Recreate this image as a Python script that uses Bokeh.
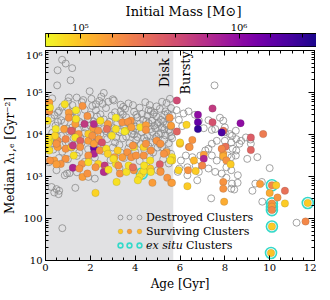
import numpy as np
from math import pi
from bokeh.plotting import figure
from bokeh.layouts import column
from bokeh.models import (ColumnDataSource, LinearColorMapper, BoxAnnotation, Legend, LegendItem,
                          LinearAxis, LogAxis, SingleIntervalTicker, FixedTicker, CustomJSTickFormatter)
from bokeh.palettes import Plasma256
from bokeh.transform import transform
from bokeh.core.properties import value
from bokeh.embed import file_html
from bokeh.resources import INLINE

FONT = "DejaVu Serif"

# ---------------- data ----------------
# destroyed clusters: age [Gyr], log10(median lambda_1,e [Gyr^-2])
destroyed_age = [
    0.30, 1.00, 1.62, 2.05, 2.55, 3.05, 3.35, 4.45, 4.95, 5.40, 4.20,
    0.15, 0.60, 0.95, 1.40, 1.75, 2.25, 2.70, 3.10, 3.55, 3.95, 4.30, 4.60, 4.85, 5.10, 5.35, 5.60, 2.00, 0.40,
    0.25, 0.70, 1.10, 1.50, 1.90, 2.30, 2.60, 2.95, 3.30, 3.60, 3.85, 4.10, 4.35, 4.55, 4.75, 4.95, 5.15, 5.30, 5.50, 5.65, 1.30, 3.45, 4.80, 5.05,
    0.05, 0.45, 0.85, 1.20, 1.60, 2.00, 2.40, 2.80, 3.20, 3.50, 3.75, 4.00, 4.20, 4.45, 4.60, 4.85, 5.00, 5.20, 5.40, 5.60, 1.45, 2.60, 3.90, 4.70, 5.50,
    0.30, 0.70, 1.05, 1.35, 1.75, 2.10, 2.45, 2.90, 3.30, 3.60, 3.85, 4.10, 4.30, 4.55, 4.75, 4.95, 5.15, 5.35, 5.55, 0.10, 2.70,
    0.50, 0.90, 1.25, 1.60, 2.00, 2.35, 2.75, 3.10, 3.45, 3.75, 4.05, 4.25, 4.50, 4.70, 4.90, 5.10, 5.30, 5.50, 5.65, 0.20,
    0.35, 0.75, 1.15, 1.50, 1.90, 2.55, 3.00, 3.35, 3.70, 4.00, 4.40, 4.80, 5.00, 5.40, 5.60,
    0.60, 1.00, 1.40, 1.75, 2.20, 2.90, 3.50, 4.20, 4.65, 5.25, 5.50, 0.15,
    0.49, 0.86, 0.96, 1.07, 1.40, 1.91, 2.20, 2.67, 3.30, 4.50, 5.00,
    0.27, 0.49, 0.61, 0.58, 0.39, 1.33, 0.75,
    0.74, 1.19, 0.54, 0.90, 1.12, 0.52, 1.97, 2.60, 2.49, 3.00, 1.39, 1.04, 1.68, 2.40, 3.47, 3.90, 0.75, 2.09,
    0.55, 1.35, 2.15, 2.85, 3.65, 4.50, 5.25, 0.95, 1.80, 2.25, 3.05, 3.35, 4.05, 4.90, 5.30,
    0.50, 1.55, 2.30, 3.15, 3.95, 4.40, 5.05, 5.60, 0.75, 1.40, 2.50, 3.30, 3.95, 4.60, 5.20,
    0.55, 1.25, 2.45, 3.35, 4.05, 4.70, 5.45, 1.20, 2.25, 2.80, 3.70, 4.65, 5.20, 5.55,
    6.16, 6.38, 6.67, 6.84, 7.06, 7.27, 7.42, 7.57, 7.78, 7.93,
    8.00, 8.00, 8.22, 8.29, 8.51, 8.73, 8.94, 9.16, 9.45, 10.00,
    8.00, 7.64, 7.42, 7.27, 7.13, 6.91, 6.55, 6.26, 6.04, 6.33,
    6.70, 5.97, 6.33, 6.84, 7.27, 7.57, 7.86, 8.07, 8.29, 8.58,
    7.42, 7.93, 7.64, 8.29, 8.51, 8.65, 7.54, 5.90, 6.77, 8.07,
    8.32, 8.29, 9.23, 9.67, 11.20, 7.39, 8.49, 8.32, 9.14, 8.35,
    8.49, 8.13, 9.00, 9.36, 9.65, 8.57, 8.42, 5.95, 6.10, 5.85,
]
destroyed_log_lambda = [
    4.86, 4.79, 4.77, 4.85, 4.73, 4.81, 4.71, 4.77, 4.67, 4.75, 4.64,
    4.61, 4.56, 4.65, 4.51, 4.59, 4.58, 4.63, 4.53, 4.61, 4.54, 4.49, 4.58, 4.52, 4.61, 4.55, 4.63, 4.47, 4.46,
    4.39, 4.34, 4.43, 4.31, 4.37, 4.43, 4.36, 4.45, 4.38, 4.41, 4.31, 4.41, 4.35, 4.45, 4.33, 4.43, 4.35, 4.47, 4.37, 4.45, 4.47, 4.48, 4.48, 4.29,
    4.24, 4.21, 4.29, 4.17, 4.27, 4.21, 4.29, 4.17, 4.27, 4.19, 4.26, 4.19, 4.25, 4.15, 4.27, 4.21, 4.25, 4.17, 4.23, 4.19, 4.11, 4.13, 4.09, 4.13, 4.11,
    4.04, 3.97, 4.07, 3.95, 4.03, 3.94, 4.01, 3.99, 4.06, 3.95, 4.02, 3.94, 4.05, 3.97, 4.06, 3.95, 4.03, 3.98, 4.06, 3.93, 4.08,
    3.87, 3.81, 3.91, 3.79, 3.85, 3.77, 3.89, 3.81, 3.91, 3.79, 3.87, 3.77, 3.85, 3.81, 3.89, 3.77, 3.87, 3.79, 3.91, 3.73,
    3.64, 3.59, 3.69, 3.57, 3.65, 3.61, 3.69, 3.57, 3.67, 3.59, 3.65, 3.57, 3.69, 3.61, 3.54,
    3.44, 3.41, 3.49, 3.35, 3.45, 3.39, 3.44, 3.37, 3.47, 3.41, 3.31, 3.34,
    3.15, 3.03, 3.07, 3.08, 3.10, 2.99, 2.95, 3.11, 3.20, 3.25, 3.15,
    2.75, 2.70, 2.66, 2.58, 2.62, 2.73, 1.77,
    5.78, 5.58, 5.53, 5.69, 5.29, 5.17, 5.03, 4.99, 4.90, 4.84, 4.88, 4.88, 4.82, 4.80, 4.66, 4.70, 4.66, 4.68,
    4.30, 4.33, 4.31, 4.30, 4.28, 4.32, 4.30, 4.14, 4.16, 4.12, 4.15, 4.11, 4.13, 4.15, 4.12,
    3.97, 3.93, 4.00, 3.93, 4.00, 3.92, 4.00, 3.96, 3.76, 3.75, 3.74, 3.75, 3.74, 3.72, 3.70,
    4.52, 4.55, 4.48, 4.55, 4.47, 4.56, 4.50, 4.70, 4.72, 4.78, 4.74, 4.70, 4.78, 4.85,
    4.50, 4.55, 4.47, 4.33, 4.15, 4.34, 4.11, 4.13, 4.40, 4.33,
    4.17, 4.05, 4.01, 3.81, 3.89, 3.85, 3.93, 3.78, 3.46, 3.20,
    3.85, 3.85, 3.78, 3.66, 3.62, 3.50, 3.46, 3.50, 3.38, 3.22,
    3.26, 3.19, 3.03, 3.11, 3.19, 3.11, 3.07, 3.22, 3.15, 3.03,
    3.50, 3.46, 3.38, 3.46, 3.62, 3.78, 5.17, 3.11, 2.91, 2.97,
    2.83, 2.71, 2.66, 2.40, 1.90, 2.48, 4.09, 3.97, 3.88, 3.66,
    3.50, 3.50, 3.42, 2.83, 2.87, 2.85, 2.69, 4.35, 4.20, 4.58,
]

# surviving clusters: age [Gyr], log10(median lambda), log10(initial mass [Msun])
surviving_age = [
    5.86, 7.45, 6.80, 6.80, 6.80, 6.29, 5.86, 7.45, 7.93, 7.86,
    8.70, 9.16, 9.71, 9.16, 6.55, 6.00, 5.39, 5.65, 5.65, 5.10,
    7.06, 7.06, 6.99, 6.62, 7.93, 7.93, 8.07, 8.26, 6.70, 5.43,
    5.13, 8.03, 7.86, 6.40, 5.61, 6.33, 7.93, 7.93, 7.97, 9.57,
    10.10, 10.29, 10.00, 10.35, 10.68, 10.68, 10.10, 10.10, 10.10, 11.70,
    11.60, 10.10, 10.06, 4.30, 0.17, 0.17, 0.86, 1.04, 0.10, 1.33,
    1.74, 0.46, 0.83, 1.19, 1.48, 2.13, 2.35, 1.91, 2.78, 3.14,
    3.43, 3.58, 3.14, 3.80, 0.54, 0.90, 1.33, 1.55, 1.91, 2.35,
    0.17, 0.17, 0.54, 0.90, 1.16, 1.55, 2.16, 2.16, 2.16, 2.42,
    1.91, 2.71, 2.78, 3.07, 3.43, 3.22, 3.65, 3.94, 0.90, 1.26,
    0.39, 0.68, 1.22, 1.62, 1.91, 2.35, 2.64, 2.64, 3.14, 3.94,
    4.38, 4.67, 4.67, 4.38, 4.23, 4.38, 4.96, 0.20, 1.36, 1.65,
    2.16, 3.68, 1.87, 1.04, 1.36, 2.45, 2.74, 2.96, 3.53, 3.83,
    0.42, 0.13, 1.14, 2.09, 2.38, 2.52, 0.13, 0.49, 1.22, 0.20,
    0.49, 1.51, 1.65, 1.87, 2.23, 2.60, 2.81, 3.17, 2.23, 3.32,
    3.61, 3.83, 3.71, 3.03, 3.25, 3.90, 4.19, 4.12, 4.40, 4.70,
    4.77, 5.13, 5.64, 5.57, 3.90, 4.04, 4.70, 5.13, 6.00, 5.93,
    6.36, 6.43, 5.28, 5.54, 5.60, 4.48, 4.48, 4.48,
]
surviving_log_lambda = [
    4.81, 4.62, 4.47, 4.29, 4.13, 4.23, 4.07, 4.29, 4.09, 4.05,
    4.27, 3.93, 4.01, 3.63, 3.87, 3.78, 3.58, 3.46, 3.38, 3.29,
    3.52, 3.42, 3.26, 3.38, 3.54, 3.48, 3.38, 3.29, 3.13, 2.97,
    3.13, 3.71, 3.66, 3.70, 2.85, 2.77, 2.87, 2.71, 2.40, 2.82,
    2.79, 2.79, 2.61, 2.50, 2.66, 2.36, 2.36, 2.28, 2.20, 2.37,
    1.93, 1.81, 1.18, 3.07, 4.76, 4.56, 4.72, 4.52, 4.33, 4.25,
    4.25, 4.13, 4.13, 4.09, 4.01, 4.15, 4.09, 4.01, 4.25, 4.13,
    4.29, 4.09, 4.40, 4.33, 3.85, 3.89, 3.93, 3.85, 3.85, 3.85,
    3.85, 3.62, 3.70, 3.66, 3.70, 3.70, 3.68, 3.54, 3.78, 3.62,
    3.50, 3.66, 3.54, 3.46, 3.46, 3.62, 3.58, 3.70, 3.42, 3.50,
    3.38, 3.30, 3.21, 3.30, 3.34, 3.30, 3.26, 3.13, 3.30, 3.15,
    3.13, 3.19, 3.38, 3.50, 4.17, 3.70, 3.85, 4.64, 4.58, 4.68,
    4.25, 4.30, 4.44, 4.40, 4.37, 4.33, 4.13, 3.97, 4.07, 4.17,
    3.97, 3.93, 4.09, 3.97, 3.89, 3.81, 3.79, 3.78, 3.74, 3.38,
    3.29, 3.19, 2.99, 3.07, 3.22, 3.11, 3.16, 2.87, 2.61, 3.07,
    3.11, 3.46, 3.26, 3.42, 3.26, 3.22, 2.99, 2.91, 3.26, 3.11,
    2.85, 3.11, 2.85, 3.38, 3.74, 3.50, 3.62, 3.78, 3.81, 3.15,
    3.15, 3.70, 3.54, 4.40, 4.21, 4.22, 4.11, 3.78,
]
surviving_log_mass = [
    5.62, 5.72, 6.00, 6.20, 6.40, 4.93, 5.48, 5.58, 5.40, 6.30,
    6.00, 5.52, 5.35, 5.48, 5.22, 5.02, 5.17, 4.88, 4.93, 5.52,
    5.17, 5.85, 5.28, 5.05, 5.17, 5.10, 5.22, 4.97, 4.97, 5.22,
    5.17, 5.40, 5.28, 5.35, 5.17, 4.97, 5.22, 5.22, 5.10, 5.17,
    5.28, 4.97, 5.10, 5.22, 5.40, 4.97, 5.22, 5.17, 5.28, 4.97,
    5.28, 4.97, 5.00, 4.88, 5.17, 5.22, 4.88, 5.17, 4.88, 5.17,
    5.72, 4.85, 5.17, 5.40, 5.22, 5.17, 5.22, 4.97, 5.17, 4.88,
    5.22, 4.88, 4.85, 5.22, 5.22, 5.28, 4.88, 5.48, 5.17, 5.52,
    4.85, 4.88, 5.17, 5.22, 4.97, 5.22, 6.20, 5.85, 5.17, 5.22,
    5.22, 4.88, 4.93, 5.17, 5.17, 4.97, 5.22, 4.88, 5.22, 4.88,
    5.17, 5.22, 5.85, 5.22, 4.88, 4.93, 5.72, 5.22, 4.88, 5.22,
    4.88, 4.97, 4.88, 5.22, 4.88, 4.93, 5.22, 4.88, 4.85, 5.22,
    5.80, 5.22, 5.22, 5.22, 4.88, 4.88, 5.40, 4.88, 4.85, 5.17,
    4.93, 4.88, 5.52, 5.22, 5.17, 5.58, 4.88, 5.22, 5.72, 5.22,
    5.17, 5.22, 5.17, 5.22, 5.22, 5.80, 4.88, 4.88, 4.93, 5.22,
    4.88, 5.22, 4.88, 4.88, 5.22, 5.40, 4.88, 4.88, 4.88, 4.88,
    5.17, 5.22, 5.17, 4.88, 5.22, 5.22, 5.22, 5.22, 4.93, 4.93,
    5.22, 5.22, 5.22, 5.22, 5.17, 5.17, 5.22, 5.22,
]

# ex situ clusters (subset of surviving)
exsitu_age = [4.30, 10.10, 10.10, 10.10, 10.10, 11.70, 10.10, 10.06]
exsitu_log_lambda = [3.07, 2.79, 2.36, 2.28, 2.20, 2.37, 1.81, 1.18]

# regime labels
regime_text = ["Disk", "Bursty"]
DISK_BURSTY_AGE = 5.7
LABEL_LOG_LAMBDA = 5.47
LOG_MASS_LOW, LOG_MASS_HIGH = 4.78, 6.52

legend_labels = ["Destroyed Clusters", "Surviving Clusters"]
exsitu_label_italic = "ex situ"
exsitu_label_roman = "Clusters"

assert len(destroyed_age) == len(destroyed_log_lambda)
assert len(surviving_age) == len(surviving_log_lambda) == len(surviving_log_mass)

# ---------------- styling helpers ----------------
SUP_JS = """
const s = ['\u2070','\u00b9','\u00b2','\u00b3','\u2074','\u2075','\u2076','\u2077','\u2078','\u2079'];
function sup(e){ return String(e).split('').map(c => s[parseInt(c)]).join(''); }
"""
y_formatter = CustomJSTickFormatter(code=SUP_JS + """
const e = Math.round(Math.log10(tick));
if (e < 3) { return String(Math.round(Math.pow(10, e))); }
return '10' + sup(e);
""")
cb_formatter = CustomJSTickFormatter(code=SUP_JS + """
return '10' + sup(Math.round(tick));
""")
blank_formatter = CustomJSTickFormatter(code="return '';")

y_major = [10.0 ** k for k in range(1, 7)]
y_minor = [m * 10.0 ** k for k in range(1, 6) for m in range(2, 10)]


def style_axis(ax, major_in, minor_in, label_size="10px", title_size="12px"):
    ax.major_tick_in = major_in
    ax.major_tick_out = 0
    ax.minor_tick_in = minor_in
    ax.minor_tick_out = 0
    ax.axis_line_color = "black"
    ax.major_tick_line_color = "black"
    ax.minor_tick_line_color = "black"
    ax.major_label_text_font = FONT
    ax.major_label_text_font_size = label_size
    ax.major_label_text_color = "black"
    ax.axis_label_text_font = FONT
    ax.axis_label_text_font_size = title_size
    ax.axis_label_text_font_style = "normal"
    ax.axis_label_text_color = "black"


mapper = LinearColorMapper(palette=list(reversed(Plasma256)), low=LOG_MASS_LOW, high=LOG_MASS_HIGH)

# ---------------- colour bar figure ----------------
cb = figure(frame_width=276, frame_height=13, x_range=(LOG_MASS_LOW, LOG_MASS_HIGH), y_range=(0, 1),
            x_axis_location="above", y_axis_location=None, output_backend="svg", toolbar_location=None,
            min_border_left=38, min_border_right=2, min_border_top=0, min_border_bottom=3)
cb.image(image=[np.linspace(LOG_MASS_LOW, LOG_MASS_HIGH, 256).reshape(1, -1)], x=LOG_MASS_LOW, y=0,
         dw=LOG_MASS_HIGH - LOG_MASS_LOW, dh=1, color_mapper=mapper)
cb.grid.visible = False
cb.outline_line_color = "black"
cb.outline_line_width = 1
cax = cb.xaxis[0]
cax.ticker = FixedTicker(ticks=[5, 6], minor_ticks=[4.8, 5.2, 5.4, 5.6, 5.8, 6.2, 6.4])
cax.formatter = cb_formatter
cax.axis_label = "Initial Mass [M\u2299]"
style_axis(cax, 5, 4, "10px", "13px")
cax.major_label_standoff = 1
cax.axis_label_standoff = 0

# ---------------- main figure ----------------
p = figure(width=316, height=244, x_range=(0, 12), y_range=(10, 1e6), y_axis_type="log",
           output_backend="svg", toolbar_location=None,
           min_border_left=38, min_border_right=2, min_border_top=1, min_border_bottom=0)
p.grid.visible = False
p.outline_line_color = "black"
p.outline_line_width = 1
p.background_fill_color = "white"
p.border_fill_color = "white"

xax = p.xaxis[0]
xax.ticker = SingleIntervalTicker(interval=2, num_minor_ticks=4)
xax.axis_label = "Age [Gyr]"
style_axis(xax, 5, 3)
xax.major_label_standoff = 3
xax.axis_label_standoff = 3

yax = p.yaxis[0]
yax.ticker = FixedTicker(ticks=y_major, minor_ticks=y_minor)
yax.formatter = y_formatter
yax.axis_label = "Median \u03bb\u2081,\u2091 [Gyr\u207b\u00b2]"
style_axis(yax, 6, 3, "10px", "12px")
yax.major_label_standoff = 3
yax.axis_label_standoff = 3

top_ax = LinearAxis(ticker=SingleIntervalTicker(interval=2, num_minor_ticks=4), formatter=blank_formatter,
                    major_label_standoff=0)
style_axis(top_ax, 5, 3, "1px")
p.add_layout(top_ax, "above")
right_ax = LogAxis(ticker=FixedTicker(ticks=y_major, minor_ticks=y_minor), formatter=blank_formatter,
                   major_label_standoff=0)
style_axis(right_ax, 6, 3, "1px")
p.add_layout(right_ax, "right")

p.add_layout(BoxAnnotation(right=DISK_BURSTY_AGE, fill_color="#e1e1e3", fill_alpha=1.0, line_alpha=0,
                           level="underlay"))

src_d = ColumnDataSource(dict(age=destroyed_age, lam=[10.0 ** v for v in destroyed_log_lambda]))
src_s = ColumnDataSource(dict(age=surviving_age, lam=[10.0 ** v for v in surviving_log_lambda],
                              logm=surviving_log_mass))
src_x = ColumnDataSource(dict(age=exsitu_age, lam=[10.0 ** v for v in exsitu_log_lambda]))

r_d = p.scatter("age", "lam", source=src_d, marker="circle", size=7, fill_color=None,
                line_color="#8a8a8a", line_width=0.8)
r_x = p.scatter("age", "lam", source=src_x, marker="circle", size=11, fill_color=None,
                line_color="#35d9c9", line_width=1.6)
r_s = p.scatter("age", "lam", source=src_s, marker="circle", size=7.5, fill_color=transform("logm", mapper),
                line_color="#444444", line_alpha=0.3, line_width=0.5)
# fully transparent twin of the ex situ renderer: used only for text-only legend columns
r_none = p.scatter("age", "lam", source=src_x, marker="circle", size=1, fill_alpha=0, line_alpha=0)

# regime labels as text glyphs (rotated)
lab_y = 10 ** LABEL_LOG_LAMBDA
p.text(x=[DISK_BURSTY_AGE], y=[lab_y], text=[regime_text[0]], angle=pi / 2, x_offset=-1,
       text_align="center", text_baseline="bottom", text_font=value(FONT), text_font_size="13px",
       text_color="black")
p.text(x=[DISK_BURSTY_AGE], y=[lab_y], text=[regime_text[1]], angle=pi / 2, x_offset=5,
       text_align="center", text_baseline="top", text_font=value(FONT), text_font_size="13px",
       text_color="black")


def add_legend(xloc, labels, renderers, indices, style="normal"):
    items = []
    for lab, r, idx in zip(labels, renderers, indices):
        if idx is None:
            items.append(LegendItem(label=lab, renderers=[r]))
        else:
            items.append(LegendItem(label=lab, renderers=[r], index=idx))
    lg = Legend(items=items, location=(xloc, 8), orientation="vertical", padding=0, margin=0, spacing=0,
                glyph_width=12, glyph_height=14, label_height=14, label_width=1, label_standoff=1,
                border_line_alpha=0, background_fill_alpha=0, label_text_font=FONT,
                label_text_font_size="11px", label_text_color="black", label_text_font_style=style)
    p.add_layout(lg, "center")


blank = "\u00a0"
# three columns of markers (like the reference), labels next to the last column
add_legend(69, [blank] * 3, [r_d, r_s, r_x], [None, 27, None])
add_legend(78, [blank] * 3, [r_d, r_s, r_x], [None, 16, None])
add_legend(88, legend_labels + [blank], [r_d, r_s, r_x], [None, 23, None])
# "ex situ" in italics, then "Clusters" upright
add_legend(88, [blank, blank, exsitu_label_italic], [r_none] * 3, [None] * 3, style="italic")
add_legend(128, [blank, blank, exsitu_label_roman], [r_none] * 3, [None] * 3)

layout = column(cb, p, spacing=0)
open("out.html", "w").write(file_html(layout, INLINE))
